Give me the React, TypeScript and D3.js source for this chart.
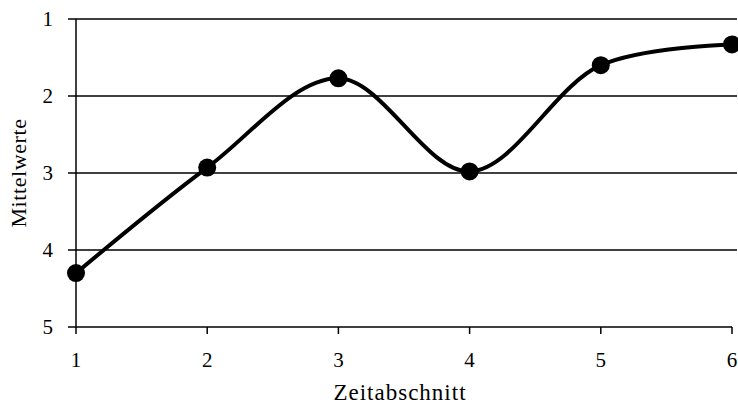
import React from "react";
import * as d3 from "d3";

const periods = [1, 2, 3, 4, 5, 6];
const means = [4.3, 2.93, 1.77, 2.98, 1.6, 1.33];
const yTicks = [1, 2, 3, 4, 5];
const xLabel = "Zeitabschnitt";
const yLabel = "Mittelwerte";

export default function App() {
  const W = 738, H = 407;
  const x = d3.scaleLinear().domain([1, 6]).range([76, 732]);
  const y = d3.scaleLinear().domain([1, 5]).range([19, 327]);
  const line = d3
    .line<number>()
    .x((_, i) => x(periods[i]))
    .y((d) => y(d))
    .curve(d3.curveCatmullRom.alpha(0.5));
  const font = "'Liberation Serif', 'Times New Roman', serif";
  return (
    <svg width={W} height={H} style={{ position: "absolute", left: 0, top: 0, background: "#fff" }} fontFamily={font}>
      {yTicks.map((t) => (
        <g key={t}>
          <line x1={68} x2={t === 5 ? 732 : 737} y1={y(t)} y2={y(t)} stroke="#000" strokeWidth={1.5} />
          <text x={53} y={y(t)} dy="0.35em" textAnchor="end" fontSize={21}>
            {t}
          </text>
        </g>
      ))}
      <line x1={x(1)} x2={x(1)} y1={y(1)} y2={y(5)} stroke="#000" strokeWidth={1.5} />
      {periods.map((p) => (
        <g key={p}>
          <line x1={x(p)} x2={x(p)} y1={y(5)} y2={y(5) + 7} stroke="#000" strokeWidth={1.5} />
          <text x={x(p)} y={367} textAnchor="middle" fontSize={21}>
            {p}
          </text>
        </g>
      ))}
      <path d={line(means) || ""} fill="none" stroke="#000" strokeWidth={4} />
      {means.map((m, i) => (
        <circle key={i} cx={x(periods[i])} cy={y(m)} r={9} fill="#000" />
      ))}
      <text x={400} y={400} textAnchor="middle" fontSize={23} letterSpacing={1}>
        {xLabel}
      </text>
      <text transform={`translate(26,173) rotate(-90)`} textAnchor="middle" fontSize={22} letterSpacing={0.6}>
        {yLabel}
      </text>
    </svg>
  );
}
